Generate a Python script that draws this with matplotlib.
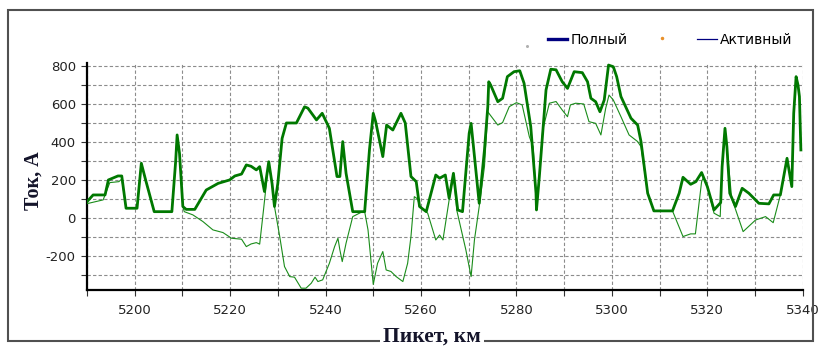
import matplotlib
matplotlib.use("Agg")
import matplotlib.pyplot as plt
from matplotlib.lines import Line2D
from matplotlib.patches import Rectangle
from matplotlib.ticker import MultipleLocator

plt.rcParams["font.family"] = ["DejaVu Sans"]
plt.rcParams["axes.unicode_minus"] = False

# Полный ток по пикетам
km_full = [5190.0, 5191.3, 5193.8, 5194.5, 5196.5, 5197.3, 5198.2, 5200.5, 5201.4, 5202.3,
           5204.1, 5207.8, 5208.6, 5208.9, 5209.4, 5210.1, 5210.8, 5212.6, 5215.0, 5217.5,
           5219.9, 5221.0, 5222.4, 5223.4, 5224.4, 5225.5, 5226.2, 5227.2, 5228.1, 5228.8,
           5229.3, 5230.0, 5230.9, 5231.8, 5233.9, 5235.6, 5236.3, 5238.1, 5239.3, 5240.8,
           5242.4, 5243.0, 5243.6, 5244.3, 5245.7, 5248.2, 5249.2, 5250.0, 5250.5, 5252.0,
           5252.8, 5254.1, 5255.8, 5256.7, 5257.9, 5259.0, 5259.7, 5261.1, 5263.1, 5263.9,
           5265.1, 5265.9, 5266.8, 5267.7, 5268.7, 5270.1, 5270.5, 5270.9, 5272.2, 5273.3,
           5274.0, 5274.2, 5274.6, 5276.1, 5277.1, 5278.1, 5279.5, 5280.7, 5281.6, 5283.0,
           5284.1, 5284.2, 5284.8, 5286.2, 5287.2, 5288.3, 5289.6, 5290.7, 5292.1, 5293.8,
           5294.9, 5295.6, 5296.6, 5297.5, 5298.4, 5299.3, 5300.3, 5301.0, 5301.9, 5304.0,
           5305.4, 5306.1, 5307.5, 5308.8, 5312.7, 5314.1, 5314.9, 5316.5, 5317.6, 5318.8,
           5320.0, 5321.4, 5322.8, 5323.1, 5323.7, 5324.1, 5324.7, 5325.9, 5327.3, 5328.7,
           5330.8, 5332.9, 5333.9, 5335.3, 5336.7, 5337.7, 5338.1, 5338.6, 5339.0, 5339.3, 5339.6]
amp_full = [85, 121, 121, 200, 221, 221, 51, 51, 288, 200,
            33, 33, 300, 437, 340, 60, 45, 45, 147, 182,
            200, 221, 231, 279, 272, 253, 270, 139, 296, 180,
            60, 182, 419, 500, 500, 585, 578, 516, 551, 472,
            218, 218, 402, 235, 33, 33, 358, 551, 507, 323,
            489, 463, 551, 500, 218, 191, 60, 33, 226, 209,
            226, 104, 235, 42, 33, 446, 498, 400, 77, 358,
            586, 717, 700, 612, 630, 744, 770, 775, 709, 481,
            130, 42, 218, 674, 783, 780, 717, 682, 770, 765,
            717, 630, 612, 559, 621, 805, 796, 744, 639, 525,
            489, 402, 130, 37, 37, 130, 214, 177, 191, 239,
            165, 42, 81, 270, 472, 375, 130, 60, 156, 130,
            77, 74, 121, 121, 314, 165, 551, 744, 700, 639, 358]

# Активный ток по пикетам
km_active = [5190.0, 5193.4, 5194.8, 5196.7, 5197.3, 5198.2, 5200.5, 5201.4, 5202.3, 5204.1,
             5207.8, 5208.6, 5208.9, 5209.4, 5210.1, 5210.4, 5212.2, 5214.3, 5216.4, 5218.5,
             5220.3, 5222.4, 5223.4, 5224.4, 5225.5, 5226.2, 5227.0, 5228.1, 5228.8, 5229.3,
             5230.4, 5231.4, 5232.5, 5233.5, 5234.9, 5235.9, 5237.0, 5237.8, 5238.4, 5239.4,
             5240.8, 5241.9, 5242.6, 5243.0, 5243.5, 5244.3, 5245.7, 5247.5, 5248.2, 5248.9,
             5250.0, 5250.9, 5252.0, 5252.7, 5253.7, 5254.8, 5256.2, 5257.2, 5257.9, 5258.6,
             5259.3, 5259.7, 5261.4, 5263.1, 5263.9, 5264.6, 5265.9, 5266.8, 5267.5, 5269.4,
             5270.5, 5271.2, 5272.2, 5273.3, 5274.0, 5274.5, 5276.1, 5277.1, 5278.5, 5280.0,
             5281.2, 5282.7, 5283.5, 5284.1, 5284.2, 5284.8, 5285.5, 5286.9, 5288.3, 5289.6,
             5290.7, 5291.3, 5292.4, 5294.1, 5295.2, 5296.6, 5297.7, 5298.7, 5299.4, 5300.3,
             5301.9, 5303.6, 5305.4, 5306.1, 5307.5, 5308.8, 5312.7, 5314.9, 5316.5, 5317.5,
             5318.8, 5319.2, 5320.0, 5321.4, 5322.7, 5323.1, 5323.7, 5324.1, 5325.1, 5327.5,
             5330.1, 5332.2, 5333.8, 5335.3, 5336.7, 5337.7, 5338.1, 5338.6, 5339.0, 5339.3, 5339.6]
amp_active = [75, 95, 186, 191, 205, 51, 51, 288, 200, 33,
              33, 300, 437, 340, 60, 33, 16, -19, -63, -77,
              -107, -112, -151, -137, -130, -138, 42, 296, 180, 60,
              -98, -256, -309, -312, -370, -370, -344, -312, -335, -326,
              -239, -151, -107, -168, -230, -133, 7, 30, 33, -63,
              -350, -239, -177, -274, -282, -309, -335, -239, -98, 112,
              100, 60, 25, -116, -90, -116, 95, 235, 40, -168,
              -309, -116, 60, 270, 559, 542, 489, 502, 586, 607,
              595, 428, 375, 130, 42, 218, 463, 604, 613, 568,
              533, 595, 604, 600, 507, 498, 437, 577, 647, 621,
              533, 437, 402, 375, 130, 37, 37, -98, -84, -84,
              191, 214, 165, 25, 7, 270, 472, 375, 104, -72,
              -11, 7, -25, 121, 314, 165, 551, 744, 700, 639, 358]

fig = plt.figure(figsize=(8.2, 3.47), dpi=100)
ax = fig.add_axes([0.106, 0.164, 0.873, 0.654])

ax.plot(km_active, amp_active, color="#1a8c1a", lw=0.8, zorder=3)
ax.plot(km_full, amp_full, color="#007800", lw=2.0, zorder=4)

ax.set_xlim(5190, 5340)
ax.set_ylim(-380, 815)
ax.xaxis.set_major_locator(MultipleLocator(20))
ax.xaxis.set_minor_locator(MultipleLocator(10))
ax.yaxis.set_major_locator(MultipleLocator(200))
ax.yaxis.set_minor_locator(MultipleLocator(100))

ax.grid(True, which="both", color="#8c8c8c", lw=0.8, ls=(0, (3, 2)))
ax.set_axisbelow(True)
for side in ["top", "right"]:
    ax.spines[side].set_visible(False)
for side in ["left", "bottom"]:
    ax.spines[side].set_linewidth(1.6)
    ax.spines[side].set_color("black")

ax.tick_params(which="both", direction="out", length=4, width=0.8, color="#333333")
ax.tick_params(axis="both", labelsize=9.5, labelcolor="#222222")
ax.tick_params(axis="x", pad=6)
ax.tick_params(axis="y", pad=4)

ax.set_ylabel("Ток, А", family="Liberation Serif", fontweight="bold",
              fontsize=14.5, color="#14142a")
ax.yaxis.set_label_coords(-0.06, 0.48)

# рамка вокруг графика, подпись оси X лежит на нижней границе
fig.add_artist(Rectangle((8 / 820, 6 / 347), 805 / 820, 331 / 347,
                         transform=fig.transFigure, fill=False,
                         edgecolor="#505050", lw=1.5))
fig.text(0.527, 0.03, "Пикет, км", ha="center", va="center",
         family="Liberation Serif", fontweight="bold", fontsize=15.5,
         color="#14142a", zorder=10,
         bbox=dict(facecolor="white", edgecolor="none", pad=2))

handles = [Line2D([], [], color="#000080", lw=2.4, label="Полный"),
           Line2D([], [], color="#000080", lw=0.9, label="Активный")]
fig.legend(handles=handles, loc="center right", bbox_to_anchor=(0.975, 1 - 40 / 347),
           ncol=2, frameon=False, fontsize=10, handlelength=1.4,
           handletextpad=0.25, columnspacing=5.0, borderpad=0)
fig.add_artist(Line2D([662 / 820], [1 - 38 / 347], marker="o", ms=1.5,
                      color="#e8902a", ls="none", transform=fig.transFigure))
fig.add_artist(Line2D([527 / 820], [1 - 46 / 347], marker="o", ms=1.2,
                      color="#b0b0b0", ls="none", transform=fig.transFigure))

fig.savefig("out.png", dpi=100, facecolor="white")
